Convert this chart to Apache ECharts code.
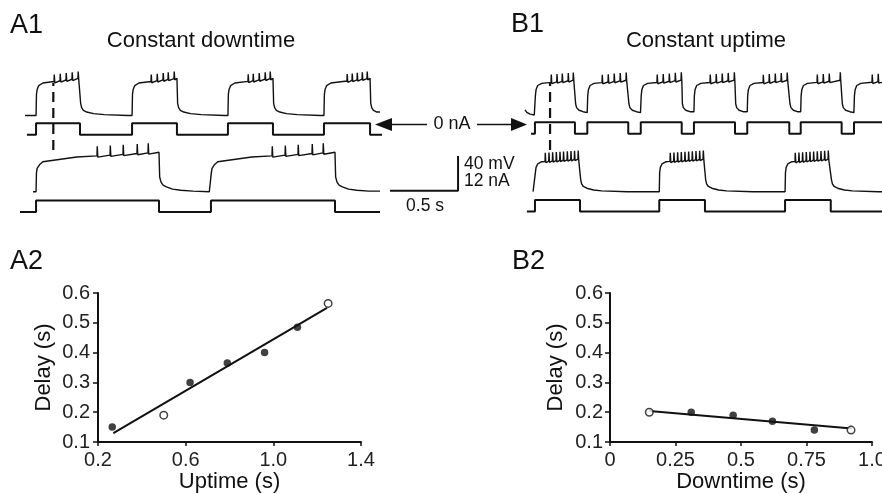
<!DOCTYPE html>
<html>
<head>
<meta charset="utf-8">
<title>Delay vs uptime / downtime</title>
<script src="https://cdn.jsdelivr.net/npm/echarts@6/dist/echarts.min.js"></script>
<style>
html,body{margin:0;padding:0;background:#fff;}
#main{width:882px;height:493px;}
</style>
</head>
<body>
<div id="main"></div>
<script>
// ---- scatter data ----
var a2Filled = [[0.265, 0.15], [0.62, 0.30], [0.79, 0.365], [0.96, 0.40], [1.11, 0.485]];
var a2Open = [[0.5, 0.19], [1.25, 0.565]];
var a2Fit = [[0.27, 0.13], [1.245, 0.55]];
var b2Filled = [[0.31, 0.20], [0.47, 0.19], [0.62, 0.17], [0.78, 0.14]];
var b2Open = [[0.15, 0.20], [0.92, 0.14]];
var b2Fit = [[0.15, 0.204], [0.923, 0.145]];
var a2XTicks = [0.2, 1.4, 0.4];   // min, max, step
var b2XTicks = [0, 1.0, 0.25];
var delayTicks = [0.1, 0.6, 0.1];

// ---- traces: time in s, voltage in mV, current in nA ----
var DOWN_V = -60;
var LOW_I = -4;

// A1 top row (short uptime)
var a1r1On = [0.118, 0.824, 1.529, 2.235];
var a1r1Off = [0.441, 1.154, 1.860, 2.574];
var a1r1Spikes = [0.250, 0.294, 0.338, 0.382, 0.426, 0.963, 1.007, 1.051, 1.088, 1.132,
                  1.676, 1.713, 1.757, 1.801, 1.838, 2.404, 2.441, 2.478, 2.515, 2.551];
var a1r1Rise = [[0.003, -36], [0.008, -30], [0.02, -25.5], [0.05, -22.5]];
var a1r1Fall = [[0.005, -46], [0.012, -51], [0.025, -54], [0.05, -56], [0.1, -57.8], [0.18, -59], [0.35, -60]];

// A1 bottom row (long uptime)
var a1r2On = [0.118, 1.404];
var a1r2Off = [1.022, 2.316];
var a1r2Spikes = [0.566, 0.662, 0.757, 0.860, 0.941, 1.853, 1.949, 2.044, 2.147, 2.228];
var a1r2Rise = [[0.003, -38], [0.008, -33], [0.025, -29], [0.05, -25.5], [0.3, -20]];
var a1r2Fall = [[0.005, -43], [0.015, -49], [0.03, -52.5], [0.054, -54.5], [0.1, -57], [0.16, -58.3],
                [0.25, -59.3], [0.37, -60]];

// B1 top row (short downtime)
var b1r1On = [0.110, 0.495, 0.888, 1.279, 1.671, 2.064, 2.456];
var b1r1Off = [0.404, 0.796, 1.189, 1.581, 1.980, 2.365, 2.757];
var b1r1Spikes = [0.228, 0.270, 0.309, 0.353, 0.390, 0.603, 0.647, 0.691, 0.735, 0.779,
                  1.007, 1.051, 1.096, 1.140, 1.184, 1.397, 1.441, 1.485, 1.529, 1.574,
                  1.787, 1.831, 1.875, 1.919, 1.963, 2.184, 2.228, 2.272, 2.353, 2.588, 2.632];
var b1r1Lead = [[0.037, -54], [0.05, -57], [0.075, -59], [0.105, -60]];
var b1r1Rise = [[0.003, -38], [0.008, -31], [0.02, -26], [0.05, -23.5]];
var b1r1Fall = [[0.005, -47], [0.012, -51.5], [0.03, -54.5], [0.06, -56.2], [0.09, -57.3], [0.15, -58.5], [0.3, -60]];

// B1 bottom row (long downtime)
var b1r2On = [0.110, 1.024, 1.949];
var b1r2Off = [0.441, 1.360, 2.285];
var b1r2Spikes = [0.184, 0.211, 0.238, 0.265, 0.292, 0.318, 0.346, 0.373, 0.399, 0.426,
                  1.103, 1.130, 1.157, 1.184, 1.211, 1.238, 1.265, 1.292, 1.319, 1.346,
                  2.022, 2.049, 2.076, 2.103, 2.130, 2.157, 2.184, 2.211, 2.238, 2.265];
var b1r2Rise = [[0.003, -38], [0.008, -32], [0.02, -28], [0.05, -25.4]];
var b1r2Fall = [[0.005, -46], [0.012, -51], [0.025, -54], [0.05, -56], [0.1, -58], [0.16, -59], [0.35, -60]];

// first-spike markers (dashed) and scale bar
var a1DashT = 0.245;
var b1DashT = 0.221;
var scaleT = 0.5, scaleV = 40;

var a1r1 = {start: 0.037, end: 2.647, iStart: 0.051, iEnd: 2.662, on: a1r1On, off: a1r1Off,
            rise: a1r1Rise, top: -17, fall: a1r1Fall, spikes: a1r1Spikes, spikeH: 8};
var a1r2 = {start: 0.096, end: 2.647, iStart: 0, iEnd: 2.647, on: a1r2On, off: a1r2Off,
            rise: a1r2Rise, top: -14.5, fall: a1r2Fall, spikes: a1r2Spikes, spikeH: 11};
var b1r1 = {lead: b1r1Lead, end: 2.8, iStart: 0.081, iEnd: 2.8, on: b1r1On, off: b1r1Off,
            rise: b1r1Rise, top: -19.7, fall: b1r1Fall, spikes: b1r1Spikes, spikeH: 9};
var b1r2 = {start: 0.096, end: 2.8, iStart: 0.051, iEnd: 2.8, on: b1r2On, off: b1r2Off,
            rise: b1r2Rise, top: -22.3, fall: b1r2Fall, spikes: b1r2Spikes, spikeH: 10};

//电压曲线
function buildV(r) {
    var pts = r.lead ? r.lead.slice() : [[r.start, DOWN_V]];
    for (var i = 0; i < r.on.length; i++) {
        var on = r.on[i], off = r.off[i];
        var next = i + 1 < r.on.length ? r.on[i + 1] : r.end;
        pts.push([on, pts[pts.length - 1][1]]);
        for (var k = 0; k < r.rise.length; k++) pts.push([on + r.rise[k][0], r.rise[k][1]]);
        var last = r.rise[r.rise.length - 1];
        var t0 = on + last[0], v0 = last[1];
        for (k = 0; k < r.spikes.length; k++) {
            var s = r.spikes[k];
            if (s <= t0 || s >= off) continue;
            var base = v0 + (r.top - v0) * (s - t0) / (off - t0);
            pts.push([s, base], [s + 0.002, base + r.spikeH], [s + 0.006, base - 1.5], [s + 0.014, base]);
        }
        pts.push([off, r.top]);
        for (k = 0; k < r.fall.length; k++) {
            if (off + r.fall[k][0] < next) pts.push([off + r.fall[k][0], r.fall[k][1]]);
        }
    }
    pts.push([r.end, pts[pts.length - 1][1]]);
    return pts;
}
//电流阶跃
function buildI(r) {
    var pts = [[r.iStart, LOW_I]];
    for (var i = 0; i < r.on.length; i++) {
        pts.push([r.on[i], LOW_I], [r.on[i], 0], [r.off[i], 0], [r.off[i], LOW_I]);
    }
    pts.push([r.iEnd, LOW_I]);
    return pts;
}

// ---- layout ----
var FONT = '"Liberation Sans", Arial, Helvetica, sans-serif';
var INK = '#111';
var PX_S = 136, PX_MV = 0.8675, PX_NA = 2.89;
var V_MIN = -70, V_MAX = 0, I_MIN = -6, I_MAX = 2;
var A_LEFT = 20, A_W = 450, B_LEFT = 520, B_W = 362;

var grids = [], xAxes = [], yAxes = [], series = [];
function addGrid(g, x, y) {
    g.outerBoundsMode = 'none';
    g.containLabel = false;
    grids.push(g);
    var i = grids.length - 1;
    x.gridIndex = i; y.gridIndex = i;
    xAxes.push(x); yAxes.push(y);
    return i;
}
function hidden(min, max) { return {type: 'value', min: min, max: max, show: false}; }
function vGrid(left, w, baseY) {
    return addGrid({left: left, width: w, top: baseY - (V_MAX - DOWN_V) * PX_MV, height: (V_MAX - V_MIN) * PX_MV},
        hidden(0, w / PX_S), hidden(V_MIN, V_MAX));
}
function iGrid(left, w, zeroY) {
    return addGrid({left: left, width: w, top: zeroY - I_MAX * PX_NA, height: (I_MAX - I_MIN) * PX_NA},
        hidden(0, w / PX_S), hidden(I_MIN, I_MAX));
}
function trace(idx, data, width) {
    return {type: 'line', xAxisIndex: idx, yAxisIndex: idx, data: data, symbol: 'none', showSymbol: false,
        silent: true, lineStyle: {color: INK, width: width}, z: 2};
}

var gA1v = vGrid(A_LEFT, A_W, 115.5), gA1i = iGrid(A_LEFT, A_W, 123.3);
var gA2v = vGrid(A_LEFT, A_W, 191.7), gA2i = iGrid(A_LEFT, A_W, 200.5);
var gB1v = vGrid(B_LEFT, B_W, 115), gB1i = iGrid(B_LEFT, B_W, 122.3);
var gB2v = vGrid(B_LEFT, B_W, 191.7), gB2i = iGrid(B_LEFT, B_W, 200);
var gDa = addGrid({left: A_LEFT, width: A_W, top: 83, height: 67}, hidden(0, A_W / PX_S), hidden(0, 1));
var gDb = addGrid({left: B_LEFT, width: B_W, top: 82, height: 68}, hidden(0, B_W / PX_S), hidden(0, 1));

series.push(trace(gA1v, buildV(a1r1), 1.4), trace(gA1i, buildI(a1r1), 2));
series.push(trace(gA2v, buildV(a1r2), 1.4), trace(gA2i, buildI(a1r2), 2));
series.push(trace(gB1v, buildV(b1r1), 1.4), trace(gB1i, buildI(b1r1), 2));
series.push(trace(gB2v, buildV(b1r2), 1.4), trace(gB2i, buildI(b1r2), 2));

var dashA = trace(gDa, [[a1DashT, 0], [a1DashT, 1]], 2.2);
dashA.lineStyle.type = [10, 6];
var dashB = trace(gDb, [[b1DashT, 0], [b1DashT, 1]], 2.2);
dashB.lineStyle.type = [10, 6];
series.push(dashA, dashB);

// scale bar sits in the lower A1 voltage row
var sbT = 2.721, sbV = -58.8;
series.push(trace(gA2v, [[sbT, sbV], [sbT + scaleT, sbV], [sbT + scaleT, sbV + scaleV]], 2));

// ---- scatter plots ----
function fmt1(v) { return v.toFixed(1); }
function scatterX(t, name, fmt) {
    return {type: 'value', min: t[0], max: t[1], interval: t[2], name: name, nameLocation: 'middle', nameGap: 28,
        nameTextStyle: {fontSize: 22, color: INK, fontFamily: FONT},
        axisLine: {show: true, onZero: false, lineStyle: {color: INK, width: 2}},
        axisTick: {show: true, length: 4, lineStyle: {color: INK, width: 1.5}},
        axisLabel: {margin: 8, fontSize: 20, color: '#222', fontFamily: FONT, formatter: fmt},
        splitLine: {show: false}};
}
function delayY(margin) {
    var t = delayTicks;
    return {type: 'value', min: t[0], max: t[1], interval: t[2], name: 'Delay (s)', nameLocation: 'middle',
        nameRotate: 90, nameGap: 43,
        nameTextStyle: {fontSize: 22, color: INK, fontFamily: FONT},
        axisLine: {show: true, onZero: false, lineStyle: {color: INK, width: 2}},
        axisTick: {show: true, length: 5, lineStyle: {color: INK, width: 1.5}},
        axisLabel: {margin: margin, fontSize: 20, color: '#222', fontFamily: FONT, formatter: fmt1},
        splitLine: {show: false}};
}
var gA2 = addGrid({left: 98, top: 293, width: 263, height: 149}, scatterX(a2XTicks, 'Uptime (s)', fmt1), delayY(8));
var gB2 = addGrid({left: 610, top: 293, width: 262, height: 149},
    scatterX(b2XTicks, 'Downtime (s)', function (v) { return v === 0 ? '0' : (v === 1 ? '1.0' : String(v)); }), delayY(7));

function scatterSet(idx, filled, open, fit) {
    series.push(
        {type: 'line', xAxisIndex: idx, yAxisIndex: idx, data: fit, symbol: 'none', silent: true,
            lineStyle: {color: INK, width: 2}, z: 3},
        {type: 'scatter', xAxisIndex: idx, yAxisIndex: idx, data: filled, symbol: 'circle', symbolSize: 7.5,
            silent: true, itemStyle: {color: INK}, z: 4},
        {type: 'scatter', xAxisIndex: idx, yAxisIndex: idx, data: open, symbol: 'circle', symbolSize: 7.5,
            silent: true, itemStyle: {color: '#fff', borderColor: INK, borderWidth: 1.5}, z: 5}
    );
}
scatterSet(gA2, a2Filled, a2Open, a2Fit);
scatterSet(gB2, b2Filled, b2Open, b2Fit);

// ---- texts and arrows ----
function txt(text, x, y, size, align) {
    return {type: 'text', z: 10, silent: true,
        style: {text: text, x: x, y: y, fill: INK, font: size + 'px ' + FONT, align: align || 'left', verticalAlign: 'middle'}};
}
var graphics = [
    txt('A1', 10, 26, 27), txt('B1', 511, 25, 27), txt('A2', 10, 262, 27), txt('B2', 512, 262, 27),
    txt('Constant downtime', 201, 41, 22, 'center'),
    txt('Constant uptime', 706, 41, 22, 'center'),
    txt('0 nA', 452, 124.5, 18, 'center'),
    txt('40 mV', 464, 164.5, 17.5), txt('12 nA', 464, 181.5, 17.5),
    txt('0.5 s', 425, 206, 17.5, 'center'),
    {type: 'line', silent: true, shape: {x1: 391, y1: 124.5, x2: 427, y2: 124.5}, style: {stroke: INK, lineWidth: 1.5}},
    {type: 'polygon', silent: true, shape: {points: [[375, 124.5], [392, 118], [392, 131]]}, style: {fill: INK}},
    {type: 'line', silent: true, shape: {x1: 477, y1: 124.5, x2: 512, y2: 124.5}, style: {stroke: INK, lineWidth: 1.5}},
    {type: 'polygon', silent: true, shape: {points: [[527, 124.5], [511, 118], [511, 131]]}, style: {fill: INK}}
];

var myChart = echarts.init(document.getElementById('main'), null, {renderer: 'canvas'});
var option = {
    backgroundColor: '#fff',
    animation: false,
    grid: grids,
    xAxis: xAxes,
    yAxis: yAxes,
    series: series,
    graphic: graphics
};
myChart.setOption(option);
</script>
</body>
</html>
